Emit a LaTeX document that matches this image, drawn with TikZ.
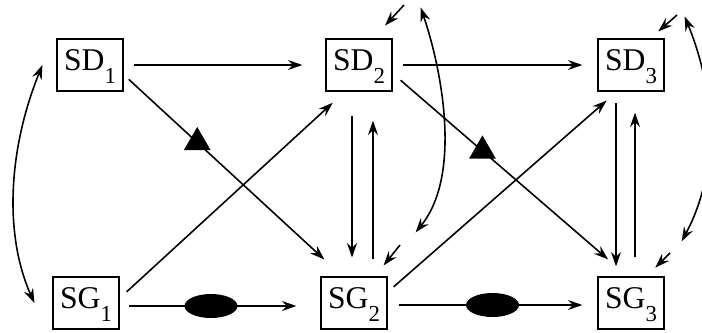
\documentclass[tikz,border=0pt]{standalone}
\usepackage{fontspec}
\setmainfont{Liberation Serif}
\usetikzlibrary{arrows.meta, positioning, shapes.geometric, calc}
\newcommand{\idx}[1]{\raisebox{-0.25cm}{\fontsize{13}{13}\selectfont #1}}
\tikzset{
  every picture/.style={line width=0.9pt},
  box/.style={draw, line width=0.7pt, minimum width=1.32cm, minimum height=1.04cm, inner sep=1pt, text height=0.52cm, text depth=0.3cm, font=\fontsize{18}{20}\selectfont},
  arrow/.style={-{Stealth[length=2.9mm, width=2mm, inset=1mm]}},
  twoway/.style={{Stealth[length=2.9mm, width=2mm, inset=1mm]}-{Stealth[length=2.9mm, width=2mm, inset=1mm]}},
  tri/.style={regular polygon, regular polygon sides=3, fill, inner sep=0pt, minimum size=0.62cm},
  blob/.style={ellipse, fill, inner sep=0pt, minimum width=1.06cm, minimum height=0.48cm},
}

\begin{document}
\begin{tikzpicture}[x=0.02cm, y=-0.02cm]
  \useasboundingbox (0,0) rectangle (702,332);
  % the six boxes, pixel grid of the scan
  \node[box] (SD1) at (90,65) {SD\idx{1}};
  \node[box] (SD2) at (359,65) {SD\idx{2}};
  \node[box] (SD3) at (631,65) {SD\idx{3}};
  \node[box] (SG1) at (86,303) {SG\idx{1}};
  \node[box] (SG2) at (354,303) {SG\idx{2}};
  \node[box] (SG3) at (631,303) {SG\idx{3}};
  % rows
  \draw[arrow, shorten <=0.2cm, shorten >=0.46cm] (SD1.east) -- (SD2.west);
  \draw[arrow, shorten <=0.2cm, shorten >=0.3cm] (SD2.east) -- (SD3.west);
  \draw[arrow, shorten <=0.18cm, shorten >=0.48cm] ([yshift=-0.06cm]SG1.east) -- node[blob, pos=0.455] (e1) {} ([yshift=-0.06cm]SG2.west);
  \draw[arrow, shorten <=0.22cm, shorten >=0.3cm] ([yshift=-0.04cm]SG2.east) -- node[blob, pos=0.5] (e2) {} ([yshift=-0.04cm]SG3.west);
  % crossings
  \draw[arrow, shorten <=0.14cm, shorten >=0.5cm] (SD1.-16) -- node[tri, pos=0.336] (t1) {} (SG2.113);
  \draw[arrow, shorten <=0.21cm, shorten >=0.52cm] (SD2.-14) -- node[tri, pos=0.382] (t2) {} (SG3.97);
  \draw[arrow, shorten <=0.19cm, shorten >=0.33cm] (SG1.8) -- (SD2.-118);
  \draw[arrow, shorten <=0.16cm, shorten >=0.27cm] (SG2.18) -- (SD3.-118);
  % up and down
  \draw[arrow, shorten <=0.48cm, shorten >=0.38cm] ([xshift=-0.14cm]SD2.south) -- ([xshift=-0.14cm]SD2.south |- SG2.north);
  \draw[arrow, shorten <=0.34cm, shorten >=0.58cm] ([xshift=0.38cm]SG2.north) -- ([xshift=0.38cm]SG2.north |- SD2.south);
  \draw[arrow, shorten <=0.22cm, shorten >=0.2cm] ([xshift=-0.3cm]SD3.south) -- ([xshift=-0.3cm]SD3.south |- SG3.north);
  \draw[arrow, shorten <=0.38cm, shorten >=0.42cm] ([xshift=0.08cm]SG3.north) -- ([xshift=0.08cm]SG3.north |- SD3.south);
  % short inputs
  \coordinate (fSD2) at (404,5);
  \coordinate (fSG2) at (400,245);
  \coordinate (fSD3) at (677,15);
  \coordinate (fSG3) at (670,253);
  \draw[arrow, shorten >=0.35cm] (fSD2) -- (SD2.62);
  \draw[arrow, shorten >=0.28cm] (fSG2) -- (SG2.52);
  \draw[arrow, shorten >=0.21cm] (fSD3) -- (SD3.54);
  \draw[arrow, shorten >=0.25cm] (fSG3) -- (SG3.60);
  % two-way bends
  \draw[twoway] ([xshift=-0.28cm]SD1.west) .. controls (8,150) and (4,235) .. ([xshift=-0.36cm]SG1.west);
  \draw[twoway] ([xshift=0.56cm, yshift=0.62cm]SD2.north east) .. controls (442,70) and (462,175) .. ([xshift=0.56cm, yshift=0.88cm]SG2.north east);
  \draw[twoway] ([xshift=0.4cm, yshift=0.44cm]SD3.north east) .. controls (715,90) and (720,170) .. ([xshift=0.34cm, yshift=0.7cm]SG3.north east);
\end{tikzpicture}
\end{document}
